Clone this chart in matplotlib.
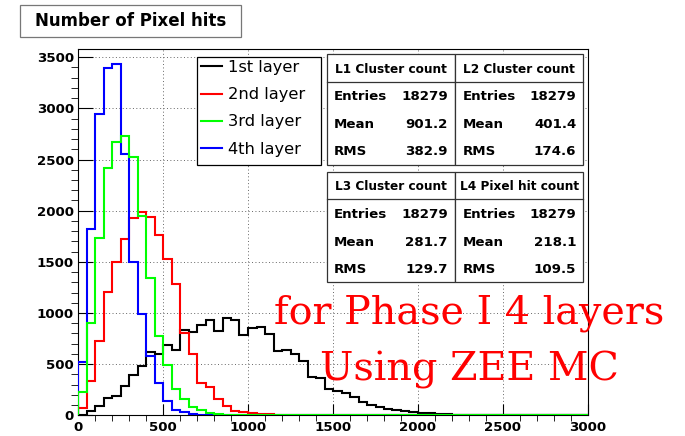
import numpy as np
import matplotlib.pyplot as plt
from matplotlib.patches import Rectangle
from matplotlib.lines import Line2D

W, H = 685, 436

# histogram contents, 50-wide bins starting at 0
layer1 = [5, 42, 91, 173, 189, 287, 395, 486, 618, 601, 689, 640, 829, 813, 885, 928,
          820, 951, 928, 787, 853, 863, 794, 633, 634, 601, 526, 379, 362, 255, 242, 222,
          183, 134, 101, 78, 62, 49, 40, 33, 26, 24, 14, 12, 5, 4, 2, 1]
layer2 = [75, 336, 728, 1202, 1503, 1725, 1928, 1986, 1941, 1761, 1529, 1287, 800, 595,
          317, 272, 155, 90, 42, 31, 18, 12, 8, 5, 3, 2]
layer3 = [231, 902, 1728, 2415, 2673, 2732, 2526, 1947, 1339, 777, 490, 261, 163, 85, 52,
          24, 10, 5]
layer4 = [525, 1817, 2941, 3395, 3434, 2552, 1500, 993, 581, 314, 140, 50, 30, 15, 5]

labels = ["1st layer", "2nd layer", "3rd layer", "4th layer"]
colors = ["black", "red", "#00ff00", "blue"]

stat_titles = ["L1 Cluster count", "L2 Cluster count", "L3 Cluster count", "L4 Pixel hit count"]
entries = [18279, 18279, 18279, 18279]
means = [901.2, 401.4, 281.7, 218.1]
rms = [382.9, 174.6, 129.7, 109.5]

nbins = 60
edges = np.arange(nbins + 1) * 50.0


def fx(px):
    return px / W


def fy(py):
    return 1 - py / H


fig = plt.figure(figsize=(W / 100, H / 100), dpi=100)
ax = fig.add_axes([fx(78), fy(415.3), fx(588) - fx(78), fy(49) - fy(415.3)])

layers = [layer1, layer2, layer3, layer4]
order = [0, 1, 3, 2]  # green drawn last, like the original
for z, i in enumerate(order):
    vals = np.pad(np.array(layers[i], float), (0, nbins - len(layers[i])))
    ax.stairs(vals, edges, baseline=0, color=colors[i], lw=1.5, zorder=3 + z)

ax.set_xlim(0, 3000)
ax.set_ylim(0, 3580)
ax.set_xticks(np.arange(0, 3001, 500))
ax.set_yticks(np.arange(0, 3501, 500))
ax.set_xticks(np.arange(0, 3001, 100), minor=True)
ax.set_yticks(np.arange(0, 3501, 100), minor=True)
ax.grid(True, which='major', color='#666666', ls=(0, (1, 2.5)), lw=0.7)
ax.tick_params(direction='in', width=0.8, labelsize=9.6, top=False, right=False)
ax.tick_params(axis='y', which='major', length=10.8, pad=3)
ax.tick_params(axis='y', which='minor', length=5.4)
ax.tick_params(axis='x', which='major', length=8, pad=4)
ax.tick_params(axis='x', which='minor', length=4)
for t in ax.get_xticklabels() + ax.get_yticklabels():
    t.set_fontweight('bold')
for s in ax.spines.values():
    s.set_linewidth(0.8)

# legend
fig.add_artist(Rectangle((fx(197), fy(165)), fx(321) - fx(197), fy(57) - fy(165),
                         transform=fig.transFigure, facecolor='white', edgecolor='black',
                         lw=0.9, zorder=9))
leg = fig.legend([Line2D([], [], color=c, lw=1.5) for c in colors], labels,
                 loc='upper left', bbox_to_anchor=(fx(197), fy(56)), fontsize=11.7,
                 frameon=False, borderpad=0.25, labelspacing=0.75, handlelength=1.3,
                 handletextpad=0.35, borderaxespad=0)
leg.set_zorder(10)

# title box
fig.add_artist(Rectangle((fx(20), fy(37.3)), fx(241) - fx(20), fy(5) - fy(37.3),
                         transform=fig.transFigure, facecolor='white', edgecolor='#777777', lw=0.9))
fig.text(fx(130.5), fy(21.5), "Number of Pixel hits", ha='center', va='center',
         fontsize=12, fontweight='bold')

# stats boxes
col_x = [326.7, 455.0]
row_y = [54.3, 171.7]
bw, bh = 128.3, 110.7
for k in range(4):
    x0 = col_x[k % 2]
    y0 = row_y[k // 2]
    fig.add_artist(Rectangle((fx(x0), fy(y0 + bh)), fx(bw), bh / H, transform=fig.transFigure,
                             facecolor='white', edgecolor='#333333', lw=0.9, zorder=10))
    fig.add_artist(Line2D([fx(x0), fx(x0 + bw)], [fy(y0 + 27.4)] * 2, transform=fig.transFigure,
                          color='#333333', lw=0.9, zorder=11))
    fig.text(fx(x0 + bw / 2), fy(y0 + 15), stat_titles[k], ha='center', va='center',
             fontsize=8.7, fontweight='bold', zorder=12)
    rows = [("Entries", "%d" % entries[k]), ("Mean", "%.1f" % means[k]), ("RMS", "%.1f" % rms[k])]
    for (name, val), dy in zip(rows, [42.4, 70.7, 97.4]):
        fig.text(fx(x0 + 7.3), fy(y0 + dy), name, ha='left', va='center',
                 fontsize=9.6, fontweight='bold', zorder=12)
        fig.text(fx(x0 + bw - 7), fy(y0 + dy), val, ha='right', va='center',
                 fontsize=9.6, fontweight='bold', zorder=12)

# red annotation
fig.text(fx(469), fy(323), "for Phase I 4 layers", ha='center', va='baseline',
         color='red', fontsize=28.5, family='DejaVu Serif', zorder=20)
fig.text(fx(469), fy(380), "Using ZEE MC", ha='center', va='baseline',
         color='red', fontsize=28.5, family='DejaVu Serif', zorder=20)

fig.savefig("out.png", dpi=100)
